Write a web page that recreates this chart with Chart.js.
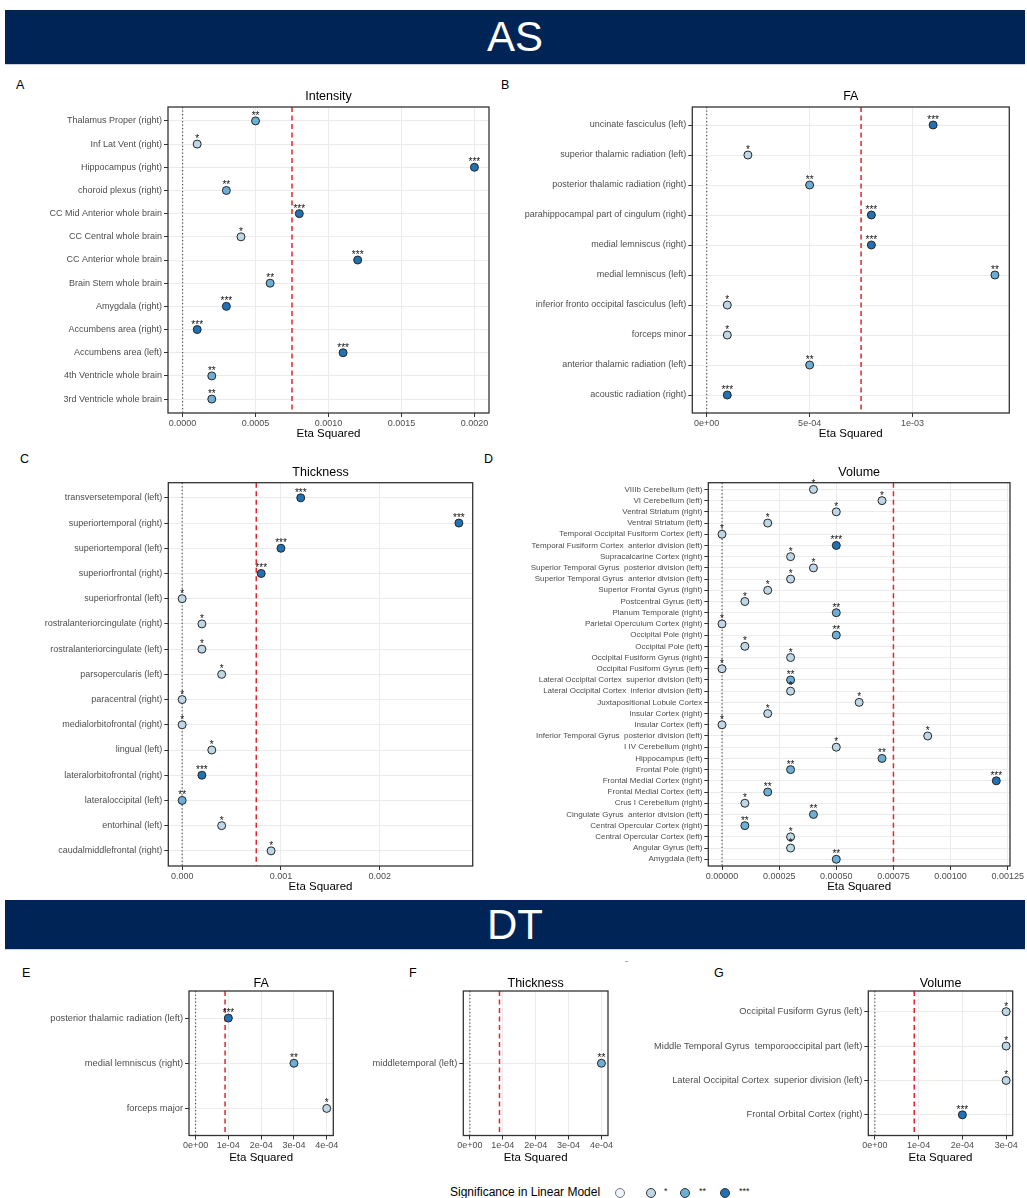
<!DOCTYPE html>
<html>
<head>
<meta charset="utf-8">
<script src="https://cdn.jsdelivr.net/npm/chart.js@4.4.1/dist/chart.umd.min.js"></script>
<style>
  body { margin: 0; width: 1027px; height: 1198px; position: relative; background: #fff; overflow: hidden;
         font-family: "Liberation Sans", Arial, sans-serif; }
  .banner { position: absolute; left: 5px; width: 1020px; background: #012456; color: #fff; text-align: center;
            font-size: 42px; border-bottom: 1.5px solid #c8d2e0; }
  .tag { position: absolute; font-size: 12.5px; color: #000; line-height: 14px; }
  .panel { position: absolute; }
  .legend { position: absolute; top: 1185px; font-size: 12px; line-height: 15px; color: #000; }
  .key { position: absolute; width: 8px; height: 8px; border-radius: 50%; border: 1px solid #333; top: 1188px; }
  .keytxt { position: absolute; top: 1185px; font-size: 9px; line-height: 12px; color: #222; }
</style>
</head>
<body>
<div class="banner" style="top:10px;height:54px;line-height:54px;">AS</div>
<div class="banner" style="top:900px;height:49px;line-height:49px;">DT</div>
<div style="position:absolute;left:625px;top:961px;width:3px;height:1px;background:#aaa;"></div>

<div class="tag" style="left:16px;top:78px;">A</div>
<div class="tag" style="left:501px;top:78px;">B</div>
<div class="tag" style="left:20px;top:452px;">C</div>
<div class="tag" style="left:484px;top:452px;">D</div>
<div class="tag" style="left:22px;top:966px;">E</div>
<div class="tag" style="left:409px;top:966px;">F</div>
<div class="tag" style="left:714px;top:966px;">G</div>

<div id="panels"></div>

<div class="legend" style="left:450px;">Significance in Linear Model</div>
<div id="legendKeys"></div>

<script>
// --- AS: Intensity ---
const labelsA = ['Thalamus Proper (right)', 'Inf Lat Vent (right)', 'Hippocampus (right)', 'choroid plexus (right)',
  'CC Mid Anterior whole brain', 'CC Central whole brain', 'CC Anterior whole brain', 'Brain Stem whole brain',
  'Amygdala (right)', 'Accumbens area (right)', 'Accumbens area (left)', '4th Ventricle whole brain',
  '3rd Ventricle whole brain'];
const etaA = [0.0005, 0.0001, 0.002, 0.0003, 0.0008, 0.0004, 0.0012, 0.0006, 0.0003, 0.0001, 0.0011, 0.0002, 0.0002];
const sigA = ['**', '*', '***', '**', '***', '*', '***', '**', '***', '***', '***', '**', '**'];
const ticksA = [0, 0.0005, 0.001, 0.0015, 0.002];
const tickLabelsA = ['0.0000', '0.0005', '0.0010', '0.0015', '0.0020'];

// --- AS: FA ---
const labelsB = ['uncinate fasciculus (left)', 'superior thalamic radiation (left)', 'posterior thalamic radiation (right)',
  'parahippocampal part of cingulum (right)', 'medial lemniscus (right)', 'medial lemniscus (left)',
  'inferior fronto occipital fasciculus (left)', 'forceps minor', 'anterior thalamic radiation (left)',
  'acoustic radiation (right)'];
const etaB = [0.0011, 0.0002, 0.0005, 0.0008, 0.0008, 0.0014, 0.0001, 0.0001, 0.0005, 0.0001];
const sigB = ['***', '*', '**', '***', '***', '**', '*', '*', '**', '***'];
const ticksB = [0, 0.0005, 0.001];
const tickLabelsB = ['0e+00', '5e-04', '1e-03'];

// --- AS: Thickness ---
const labelsC = ['transversetemporal (left)', 'superiortemporal (right)', 'superiortemporal (left)',
  'superiorfrontal (right)', 'superiorfrontal (left)', 'rostralanteriorcingulate (right)',
  'rostralanteriorcingulate (left)', 'parsopercularis (left)', 'paracentral (right)', 'medialorbitofrontal (right)',
  'lingual (left)', 'lateralorbitofrontal (right)', 'lateraloccipital (left)', 'entorhinal (left)',
  'caudalmiddlefrontal (right)'];
const etaC = [0.0012, 0.0028, 0.001, 0.0008, 0, 0.0002, 0.0002, 0.0004, 0, 0, 0.0003, 0.0002, 0, 0.0004, 0.0009];
const sigC = ['***', '***', '***', '***', '*', '*', '*', '*', '*', '*', '*', '***', '**', '*', '*'];
const ticksC = [0, 0.001, 0.002];
const tickLabelsC = ['0.000', '0.001', '0.002'];

// --- AS: Volume ---
const labelsD = ['VIIIb Cerebellum (left)', 'VI Cerebellum (left)', 'Ventral Striatum (right)', 'Ventral Striatum (left)',
  'Temporal Occipital Fusiform Cortex (left)', 'Temporal Fusiform Cortex  anterior division (left)',
  'Supracalcarine Cortex (right)', 'Superior Temporal Gyrus  posterior division (left)',
  'Superior Temporal Gyrus  anterior division (left)', 'Superior Frontal Gyrus (right)', 'Postcentral Gyrus (left)',
  'Planum Temporale (right)', 'Parietal Operculum Cortex (right)', 'Occipital Pole (right)', 'Occipital Pole (left)',
  'Occipital Fusiform Gyrus (right)', 'Occipital Fusiform Gyrus (left)',
  'Lateral Occipital Cortex  superior division (left)', 'Lateral Occipital Cortex  inferior division (left)',
  'Juxtapositional Lobule Cortex', 'Insular Cortex (right)', 'Insular Cortex (left)',
  'Inferior Temporal Gyrus  posterior division (left)', 'I IV Cerebellum (right)', 'Hippocampus (left)',
  'Frontal Pole (right)', 'Frontal Medial Cortex (right)', 'Frontal Medial Cortex (left)', 'Crus I Cerebellum (right)',
  'Cingulate Gyrus  anterior division (left)', 'Central Opercular Cortex (right)', 'Central Opercular Cortex (left)',
  'Angular Gyrus (left)', 'Amygdala (left)'];
const etaD = [0.0004, 0.0007, 0.0005, 0.0002, 0, 0.0005, 0.0003, 0.0004, 0.0003, 0.0002, 0.0001, 0.0005, 0, 0.0005,
  0.0001, 0.0003, 0, 0.0003, 0.0003, 0.0006, 0.0002, 0, 0.0009, 0.0005, 0.0007, 0.0003, 0.0012, 0.0002, 0.0001,
  0.0004, 0.0001, 0.0003, 0.0003, 0.0005];
const sigD = ['*', '*', '*', '*', '*', '***', '*', '*', '*', '*', '*', '**', '*', '**', '*', '*', '*', '**', '*', '*',
  '*', '*', '*', '*', '**', '**', '***', '**', '*', '**', '**', '*', '*', '**'];
const ticksD = [0, 0.00025, 0.0005, 0.00075, 0.001, 0.00125];
const tickLabelsD = ['0.00000', '0.00025', '0.00050', '0.00075', '0.00100', '0.00125'];

// --- DT: FA ---
const labelsE = ['posterior thalamic radiation (left)', 'medial lemniscus (right)', 'forceps major'];
const etaE = [0.0001, 0.0003, 0.0004];
const sigE = ['***', '**', '*'];
const ticksE = [0, 0.0001, 0.0002, 0.0003, 0.0004];
const tickLabelsE = ['0e+00', '1e-04', '2e-04', '3e-04', '4e-04'];

// --- DT: Thickness ---
const labelsF = ['middletemporal (left)'];
const etaF = [0.0004];
const sigF = ['**'];

// --- DT: Volume ---
const labelsG = ['Occipital Fusiform Gyrus (left)', 'Middle Temporal Gyrus  temporooccipital part (left)',
  'Lateral Occipital Cortex  superior division (left)', 'Frontal Orbital Cortex (right)'];
const etaG = [0.0003, 0.0003, 0.0003, 0.0002];
const sigG = ['*', '*', '*', '***'];
const ticksG = [0, 0.0001, 0.0002, 0.0003];
const tickLabelsG = ['0e+00', '1e-04', '2e-04', '3e-04'];

// dashed reference lines
const thresholdAS = 0.00075;
const thresholdDT = 0.00009;

const legendLabels = ['', '*', '**', '***'];
const sigColors = { '': '#EFF3FF', '*': '#BDD7E7', '**': '#6BAED6', '***': '#2171B5' };

Chart.defaults.font.family = '"Liberation Sans", Arial, sans-serif';
Chart.defaults.animation = false;

// reference lines, stars and panel border
const panelDecor = {
  id: 'panelDecor',
  beforeDatasetsDraw(chart, args, opts) {
    const { ctx, chartArea: a, scales: { x } } = chart;
    ctx.save();
    let px = x.getPixelForValue(0);
    ctx.strokeStyle = '#555';
    ctx.lineWidth = 1.2;
    ctx.setLineDash([1.2, 2.3]);
    ctx.beginPath(); ctx.moveTo(px, a.top); ctx.lineTo(px, a.bottom); ctx.stroke();
    px = x.getPixelForValue(opts.threshold);
    ctx.strokeStyle = '#E2262B';
    ctx.lineWidth = 1.5;
    ctx.setLineDash([5, 3.5]);
    ctx.beginPath(); ctx.moveTo(px, a.top); ctx.lineTo(px, a.bottom); ctx.stroke();
    ctx.restore();
  },
  afterDatasetsDraw(chart, args, opts) {
    const { ctx, chartArea: a } = chart;
    const meta = chart.getDatasetMeta(0);
    ctx.save();
    ctx.fillStyle = '#111';
    ctx.font = '10px "Liberation Sans", Arial, sans-serif';
    ctx.textAlign = 'center';
    ctx.textBaseline = 'alphabetic';
    meta.data.forEach((pt, i) => ctx.fillText(opts.stars[i], pt.x, pt.y - 2));
    ctx.strokeStyle = '#333';
    ctx.lineWidth = 1.3;
    ctx.strokeRect(a.left, a.top, a.width, a.height);
    ctx.restore();
  }
};

function makePanel(p) {
  const titleSize = 12.5, etaSize = 11.5;
  const padBottom = Math.max(0, p.plot.t - p.titleY - titleSize * 0.6);
  const top = Math.floor(p.plot.t - titleSize * 1.2 - padBottom);
  const padTop = p.plot.t - top - titleSize * 1.2 - padBottom;
  const bottom = Math.round(p.etaY + etaSize * 0.6);
  const w = p.right - p.left, h = bottom - top;
  const xmax = Math.max(...p.values);
  const n = p.labels.length;

  const wrap = document.createElement('div');
  wrap.className = 'panel';
  wrap.style.left = p.left + 'px';
  wrap.style.top = top + 'px';
  const canvas = document.createElement('canvas');
  canvas.width = w; canvas.height = h;
  canvas.style.width = w + 'px'; canvas.style.height = h + 'px';
  wrap.appendChild(canvas);
  document.getElementById('panels').appendChild(wrap);

  const grid = { color: '#EBEBEB', lineWidth: 1, drawTicks: true, tickLength: 4, tickColor: '#333' };

  return new Chart(canvas.getContext('2d'), {
    type: 'scatter',
    data: {
      datasets: [{
        data: p.values.map((v, i) => ({ x: v, y: i })),
        backgroundColor: p.stars.map(s => sigColors[s]),
        borderColor: '#262626',
        borderWidth: 1,
        pointRadius: 4,
        pointHoverRadius: 4
      }]
    },
    options: {
      responsive: false,
      maintainAspectRatio: false,
      layout: { padding: { left: 0, top: 0, bottom: 0, right: p.right - p.plot.r } },
      scales: {
        x: {
          type: 'linear',
          min: -0.05 * xmax,
          max: 1.05 * xmax,
          afterBuildTicks: s => { s.ticks = p.ticks.map(v => ({ value: v })); },
          afterFit: s => { s.height = bottom - p.plot.b; },
          ticks: { callback: (v, i) => p.tickLabels[i], color: '#4D4D4D', font: { size: 9 }, padding: 1,
                   maxRotation: 0, autoSkip: false },
          grid,
          border: { display: false },
          title: { display: true, text: 'Eta Squared', color: '#000', font: { size: etaSize, lineHeight: 1.2 },
                   padding: 0 }
        },
        y: {
          type: 'linear',
          reverse: true,
          min: -0.6,
          max: n - 0.4,
          afterBuildTicks: s => { s.ticks = p.labels.map((_, i) => ({ value: i })); },
          afterFit: s => { s.width = p.plot.l - p.left; },
          ticks: { callback: v => p.labels[Math.round(v)], color: '#4D4D4D', font: { size: p.yFont }, padding: 2,
                   autoSkip: false },
          grid,
          border: { display: false }
        }
      },
      plugins: {
        legend: { display: false },
        tooltip: { enabled: false },
        title: { display: true, text: p.title, color: '#000', fullSize: false,
                 font: { size: titleSize, weight: 'normal', lineHeight: 1.2 },
                 padding: { top: padTop, bottom: padBottom } },
        panelDecor: { threshold: p.threshold, stars: p.stars }
      }
    },
    plugins: [panelDecor]
  });
}

const panels = [
  { title: 'Intensity', labels: labelsA, values: etaA, stars: sigA, ticks: ticksA, tickLabels: tickLabelsA,
    threshold: thresholdAS, plot: { l: 168, r: 489, t: 107, b: 413 }, left: 8, right: 505, titleY: 97, etaY: 434.5, yFont: 9 },
  { title: 'FA', labels: labelsB, values: etaB, stars: sigB, ticks: ticksB, tickLabels: tickLabelsB,
    threshold: thresholdAS, plot: { l: 692.3, r: 1009.3, t: 107, b: 413 }, left: 505, right: 1027, titleY: 97, etaY: 434.5, yFont: 9 },
  { title: 'Thickness', labels: labelsC, values: etaC, stars: sigC, ticks: ticksC, tickLabels: tickLabelsC,
    threshold: thresholdAS, plot: { l: 168.3, r: 472.7, t: 482.7, b: 866 }, left: 8, right: 486, titleY: 473, etaY: 887.5, yFont: 9 },
  { title: 'Volume', labels: labelsD, values: etaD, stars: sigD, ticks: ticksD, tickLabels: tickLabelsD,
    threshold: thresholdAS, plot: { l: 708.3, r: 1010, t: 482.7, b: 866 }, left: 500, right: 1027, titleY: 473, etaY: 887.5, yFont: 8 },
  { title: 'FA', labels: labelsE, values: etaE, stars: sigE, ticks: ticksE, tickLabels: tickLabelsE,
    threshold: thresholdDT, plot: { l: 189, r: 333.3, t: 991, b: 1135.5 }, left: 8, right: 350, titleY: 984, etaY: 1157.7, yFont: 9.3 },
  { title: 'Thickness', labels: labelsF, values: etaF, stars: sigF, ticks: ticksE, tickLabels: tickLabelsE,
    threshold: thresholdDT, plot: { l: 463.3, r: 608, t: 991, b: 1135.5 }, left: 350, right: 625, titleY: 984, etaY: 1157.7, yFont: 9.3 },
  { title: 'Volume', labels: labelsG, values: etaG, stars: sigG, ticks: ticksG, tickLabels: tickLabelsG,
    threshold: thresholdDT, plot: { l: 868.3, r: 1012.7, t: 991, b: 1135.5 }, left: 625, right: 1027, titleY: 984, etaY: 1157.7, yFont: 9.3 }
];

panels.forEach(makePanel);

// --- Legend keys ---
const keyX = [615, 645.5, 680, 719.5];
const keyTxtX = [0, 664, 699, 739];
const keys = document.getElementById('legendKeys');
legendLabels.forEach((lab, i) => {
  const k = document.createElement('div');
  k.className = 'key';
  k.style.left = keyX[i] + 'px';
  k.style.background = sigColors[lab];
  if (lab === '') k.style.borderColor = '#777';
  keys.appendChild(k);
  if (lab) {
    const t = document.createElement('div');
    t.className = 'keytxt';
    t.style.left = keyTxtX[i] + 'px';
    t.textContent = lab;
    keys.appendChild(t);
  }
});
</script>
</body>
</html>
